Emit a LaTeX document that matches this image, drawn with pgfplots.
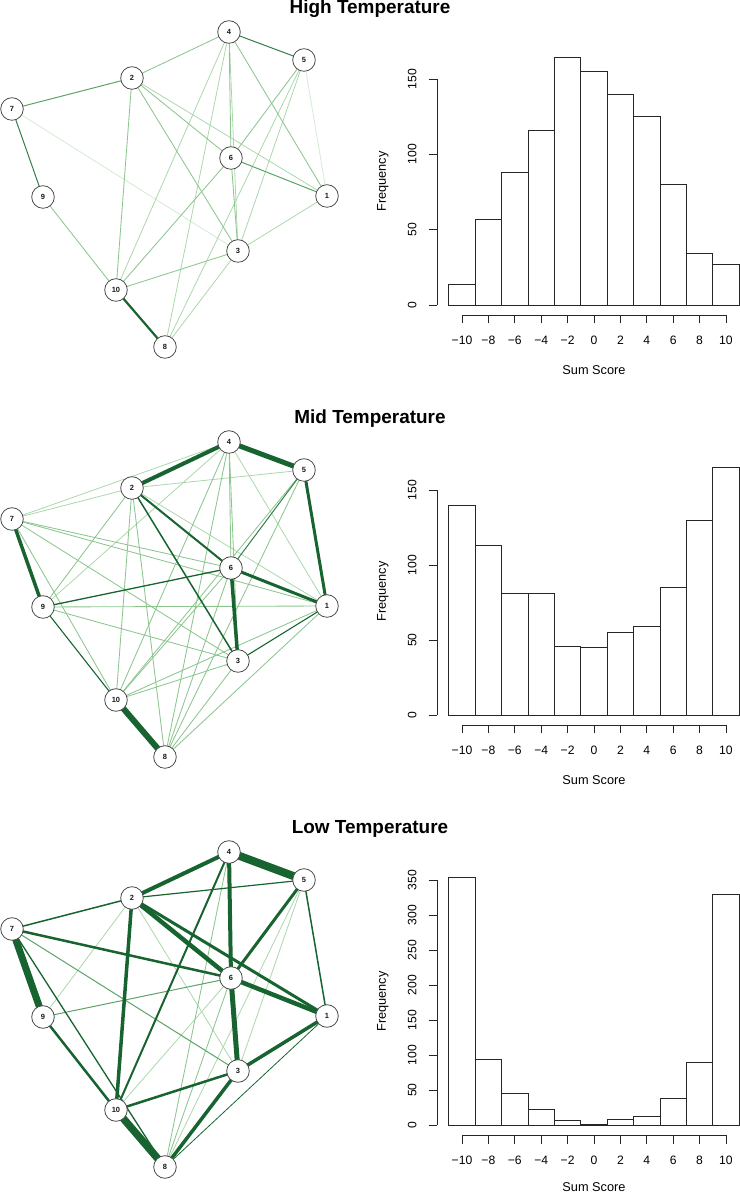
\documentclass[border=0pt]{standalone}
\usepackage{fontspec}
\setmainfont{Liberation Sans}
\usepackage{pgfplots}
\pgfplotsset{compat=1.18}

% edge colours, faint to dark
\definecolor{eA}{RGB}{212,234,212}
\definecolor{eB}{RGB}{172,215,172}
\definecolor{eC}{RGB}{140,198,142}
\definecolor{eE}{RGB}{92,163,102}
\definecolor{eF}{RGB}{52,126,72}
\definecolor{eD}{RGB}{24,100,48}

\pgfplotsset{
  e0/.style={draw=eA, line width=0.8bp},
  e1/.style={draw=eB, line width=0.8bp},
  e2/.style={draw=eC, line width=0.85bp},
  e3/.style={draw=eE, line width=1bp},
  e4/.style={draw=eF, line width=1bp},
  dk/.style={draw=eD, line width=#1bp},
  vert/.style={only marks, mark=*, mark size=11.3bp,
    mark options={fill=white, draw=black!70, line width=0.8bp},
    point meta=explicit symbolic, nodes near coords,
    nodes near coords style={anchor=center, inner sep=0pt, text=black!90,
      font=\bfseries\fontsize{7.5}{7.5}\selectfont}},
  net/.style={scale only axis, width=370bp, height=400bp,
    xmin=0, xmax=370, ymin=0, ymax=400, hide axis, clip=false, anchor=south west},
  hist/.style={scale only axis, width=313.6bp, height=267bp, anchor=south west, clip=false,
    xmin=-11.88, xmax=11.88,
    axis x line*=bottom, axis y line*=left, axis line style={draw=none,-},
    xtick={-10,-8,...,10}, xticklabels={−10,−8,−6,−4,−2,0,2,4,6,8,10},
    tick align=outside, major tick length=8.5bp, tick style={black!85, line width=0.9bp},
    /pgf/number format/assume math mode=true,
    ticklabel style={font=\fontsize{12.2}{12.2}\selectfont},
    xticklabel style={anchor=center}, xticklabel shift=16.5bp,
    yticklabel style={anchor=center, rotate=90}, yticklabel shift=16.5bp,
    xlabel={Sum Score}, ylabel={Frequency},
    label style={font=\fontsize{12.8}{12.8}\selectfont},
    xlabel style={at={(axis description cs:0.5,-0.206)}, anchor=center},
    ylabel style={at={(axis description cs:-0.1738,0.5)}, anchor=center}},
  bars/.style={ybar interval, fill=white, draw=black!85, line width=0.9bp},
  axln/.style={black!85, line width=0.9bp}
}

% node layout (same in all three networks)
\newcommand\setnode[3]{\expandafter\def\csname nx#1\endcsname{#2}\expandafter\def\csname ny#1\endcsname{#3}}
\setnode{1}{327}{204}
\setnode{2}{132}{322}
\setnode{3}{238}{149}
\setnode{4}{229}{368}
\setnode{5}{304}{340}
\setnode{6}{231}{242}
\setnode{7}{12}{291}
\setnode{8}{165}{53}
\setnode{9}{43}{203}
\setnode{10}{116}{110}

\newcommand\nedge[3]{\edef\tmp{\noexpand\addplot[#3] coordinates {(\csname nx#1\endcsname,\csname ny#1\endcsname) (\csname nx#2\endcsname,\csname ny#2\endcsname)};}\tmp}
\newcommand\nvert[1]{\edef\tmp{\noexpand\addplot[vert] coordinates {(\csname nx#1\endcsname,\csname ny#1\endcsname) [#1]};}\tmp}
\newcommand\nverts{\nvert{1}\nvert{2}\nvert{3}\nvert{4}\nvert{5}\nvert{6}\nvert{7}\nvert{8}\nvert{9}\nvert{10}}

\begin{document}
\begin{tikzpicture}
\useasboundingbox (0,0) rectangle (740bp,1194bp);

\node[anchor=base, font=\bfseries\fontsize{19}{19}\selectfont] at (370bp,1180bp) {High Temperature};
\node[anchor=base, font=\bfseries\fontsize{19}{19}\selectfont] at (370bp,770bp) {Mid Temperature};
\node[anchor=base, font=\bfseries\fontsize{19}{19}\selectfont] at (370bp,360.5bp) {Low Temperature};

% ---- high temperature network
\begin{axis}[net, at={(0bp,794bp)}]
\nedge{7}{3}{e0}
\nedge{5}{1}{e0}
\nedge{2}{1}{e1}
\nedge{4}{3}{e1}
\nedge{4}{10}{e1}
\nedge{4}{8}{e1}
\nedge{5}{3}{e1}
\nedge{5}{8}{e1}
\nedge{1}{3}{e1}
\nedge{3}{8}{e1}
\nedge{4}{2}{e2}
\nedge{9}{10}{e2}
\nedge{2}{10}{e2}
\nedge{2}{6}{e2}
\nedge{2}{3}{e2}
\nedge{4}{6}{e2}
\nedge{4}{1}{e2}
\nedge{5}{6}{e2}
\nedge{6}{10}{e2}
\nedge{6}{3}{e2}
\nedge{3}{10}{e2}
\nedge{2}{7}{e3}
\nedge{6}{1}{e3}
\nedge{7}{9}{e4}
\nedge{4}{5}{e4}
\nedge{10}{8}{dk=2.2}
\nverts
\end{axis}

% ---- mid temperature network
\begin{axis}[net, at={(0bp,384bp)}]
\nedge{7}{2}{e1}
\nedge{7}{4}{e1}
\nedge{2}{5}{e1}
\nedge{4}{9}{e1}
\nedge{2}{1}{e1}
\nedge{4}{1}{e1}
\nedge{7}{6}{e2}
\nedge{7}{1}{e2}
\nedge{7}{3}{e2}
\nedge{7}{10}{e2}
\nedge{2}{9}{e2}
\nedge{2}{10}{e2}
\nedge{2}{8}{e2}
\nedge{4}{6}{e2}
\nedge{4}{3}{e2}
\nedge{4}{10}{e2}
\nedge{4}{8}{e2}
\nedge{5}{10}{e2}
\nedge{5}{8}{e2}
\nedge{9}{1}{e2}
\nedge{9}{3}{e2}
\nedge{6}{10}{e2}
\nedge{6}{8}{e2}
\nedge{3}{10}{e2}
\nedge{3}{8}{e2}
\nedge{10}{1}{e2}
\nedge{8}{1}{e2}
\nedge{5}{6}{e4}
\nedge{9}{10}{dk=1.1}
\nedge{1}{3}{dk=1.1}
\nedge{9}{6}{dk=1.3}
\nedge{2}{3}{dk=1.5}
\nedge{2}{6}{dk=2}
\nedge{5}{1}{dk=3}
\nedge{6}{1}{dk=3}
\nedge{6}{3}{dk=3.5}
\nedge{7}{9}{dk=3.5}
\nedge{4}{2}{dk=4}
\nedge{4}{5}{dk=5}
\nedge{10}{8}{dk=6}
\nverts
\end{axis}

% ---- low temperature network
\begin{axis}[net, at={(0bp,-26bp)}]
\nedge{2}{9}{e1}
\nedge{2}{3}{e1}
\nedge{6}{10}{e1}
\nedge{5}{3}{e1}
\nedge{5}{8}{e1}
\nedge{4}{8}{e2}
\nedge{6}{8}{e2}
\nedge{7}{3}{e3}
\nedge{9}{6}{e3}
\nedge{1}{8}{dk=0.8}
\nedge{2}{5}{dk=1.2}
\nedge{2}{7}{dk=1.5}
\nedge{7}{8}{dk=1.3}
\nedge{5}{1}{dk=1.5}
\nedge{4}{10}{dk=2}
\nedge{7}{6}{dk=2.5}
\nedge{9}{10}{dk=2.5}
\nedge{3}{10}{dk=2.5}
\nedge{2}{1}{dk=3}
\nedge{5}{6}{dk=3}
\nedge{2}{10}{dk=3.5}
\nedge{1}{3}{dk=3.5}
\nedge{3}{8}{dk=3.5}
\nedge{4}{2}{dk=4}
\nedge{4}{6}{dk=4}
\nedge{2}{6}{dk=4.5}
\nedge{6}{1}{dk=4.5}
\nedge{6}{3}{dk=5}
\nedge{7}{9}{dk=7}
\nedge{10}{8}{dk=7.5}
\nedge{4}{5}{dk=8}
\nverts
\end{axis}

% ---- histograms
\begin{axis}[hist, at={(437.2bp,879bp)}, ymin=-6.56, ymax=170.56, ytick={0,50,100,150}]
\addplot[bars] coordinates {(-11,14) (-9,57) (-7,88) (-5,116) (-3,164) (-1,155) (1,140) (3,125) (5,80) (7,34) (9,27) (11,27)};
\addplot[axln] coordinates {(-10,-6.56) (10,-6.56)};
\addplot[axln] coordinates {(-11.88,0) (-11.88,150)};
\end{axis}

\begin{axis}[hist, at={(437.2bp,469bp)}, ymin=-6.6, ymax=171.6, ytick={0,50,100,150}]
\addplot[bars] coordinates {(-11,140) (-9,113) (-7,81) (-5,81) (-3,46) (-1,45) (1,55) (3,59) (5,85) (7,130) (9,165) (11,165)};
\addplot[axln] coordinates {(-10,-6.6) (10,-6.6)};
\addplot[axln] coordinates {(-11.88,0) (-11.88,150)};
\end{axis}

\begin{axis}[hist, at={(437.2bp,59bp)}, ymin=-14.12, ymax=367.12, ytick={0,50,100,150,200,250,300,350},
  xlabel style={at={(axis description cs:0.5,-0.197)}}]
\addplot[bars] coordinates {(-11,353) (-9,94) (-7,45) (-5,22) (-3,7) (-1,1) (1,8) (3,13) (5,38) (7,89) (9,330) (11,330)};
\addplot[axln] coordinates {(-10,-14.12) (10,-14.12)};
\addplot[axln] coordinates {(-11.88,0) (-11.88,350)};
\end{axis}
\end{tikzpicture}
\end{document}
